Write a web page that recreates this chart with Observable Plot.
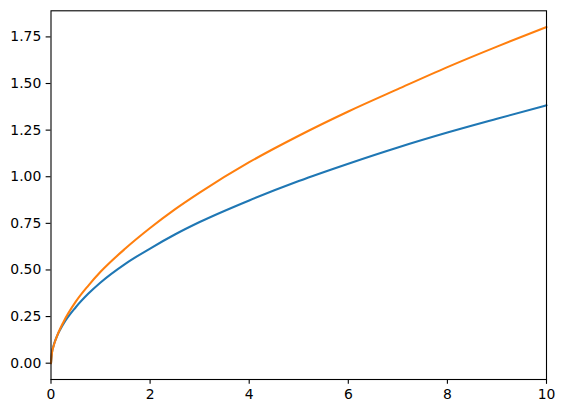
<!DOCTYPE html>
<html>
<head>
<meta charset="utf-8">
<script src="https://cdn.jsdelivr.net/npm/d3@7"></script>
<script src="https://cdn.jsdelivr.net/npm/@observablehq/plot@0.6"></script>
<style>
  html, body { margin: 0; padding: 0; background: #fff; }
</style>
</head>
<body>
<div id="chart"></div>
<script>
const xValues = [0, 0.02, 0.05, 0.1, 0.25, 0.5, 0.75, 1, 1.5, 2, 2.5, 3, 4, 5, 6, 7, 8, 9, 10];
const blueValues = [0, 0.058, 0.092, 0.132, 0.21, 0.30, 0.372, 0.433, 0.533, 0.615, 0.69, 0.757, 0.873, 0.977, 1.07, 1.157, 1.237, 1.311, 1.383];
const orangeValues = [0, 0.056, 0.09, 0.13, 0.22, 0.33, 0.415, 0.49, 0.615, 0.725, 0.825, 0.915, 1.078, 1.22, 1.35, 1.47, 1.588, 1.698, 1.803];
const xTicks = [0, 2, 4, 6, 8, 10];
const yTicks = [0, 0.25, 0.5, 0.75, 1.0, 1.25, 1.5, 1.75];

const blueData = xValues.map((x, i) => ({x, y: blueValues[i]}));
const orangeData = xValues.map((x, i) => ({x, y: orangeValues[i]}));

const tick = 4.86;
const chart = Plot.plot({
  width: 565,
  height: 413,
  marginLeft: 50.5,
  marginRight: 19,
  marginTop: 10.3,
  marginBottom: 34,
  style: {fontFamily: "DejaVu Sans", fontSize: "13.9px", color: "black", background: "white"},
  x: {domain: [0, 10]},
  y: {domain: [-0.0875, 1.89]},
  marks: [
    Plot.lineY(blueData, {x: "x", y: "y", stroke: "#1f77b4", strokeWidth: 2.08, curve: "monotone-x"}),
    Plot.lineY(orangeData, {x: "x", y: "y", stroke: "#ff7f0e", strokeWidth: 2.08, curve: "monotone-x"}),
    Plot.frame({stroke: "black", strokeWidth: 1.1}),
    Plot.axisX({ticks: xTicks, tickSize: tick, tickPadding: tick, label: null, tickFormat: d => String(d), strokeWidth: 1.1}),
    Plot.axisY({ticks: yTicks, tickSize: tick, tickPadding: tick, label: null, tickFormat: d3.format(".2f"), strokeWidth: 1.1})
  ]
});
document.getElementById("chart").appendChild(chart);
</script>
</body>
</html>
